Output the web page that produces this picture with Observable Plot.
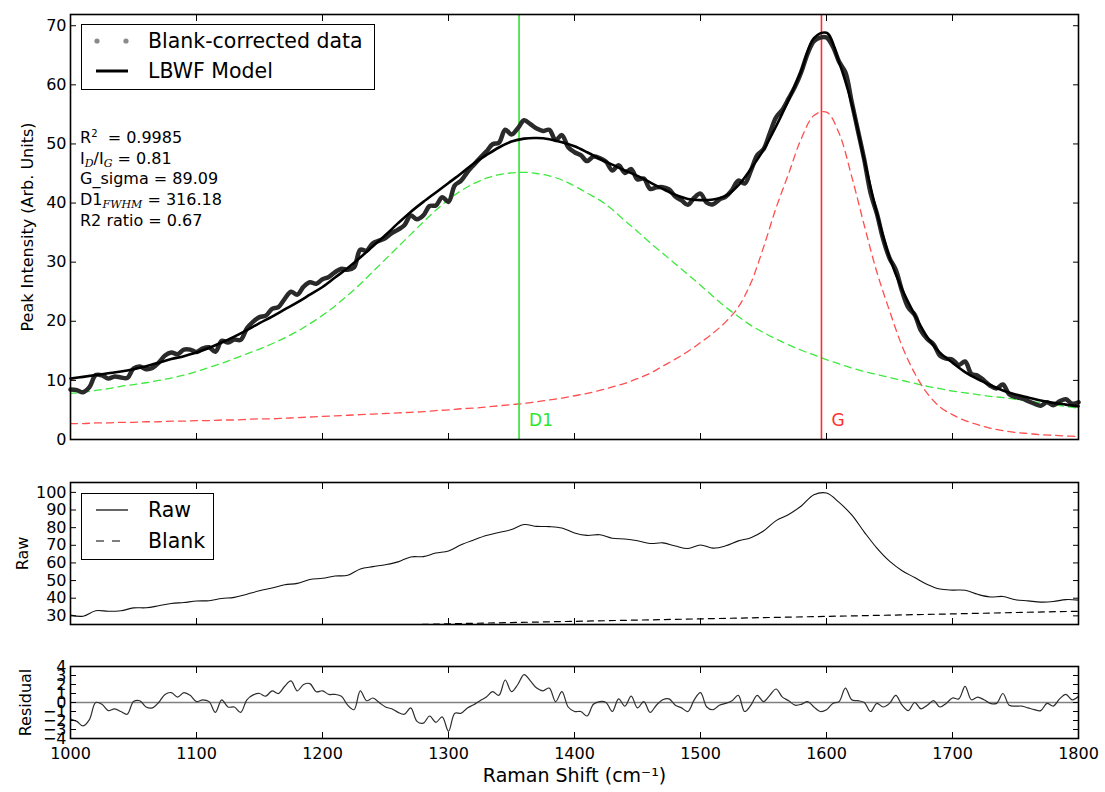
<!DOCTYPE html>
<html>
<head>
<meta charset="utf-8">
<script src="https://cdn.jsdelivr.net/npm/d3@7"></script>
<script src="https://cdn.jsdelivr.net/npm/@observablehq/plot@0.6"></script>
<style>
  body { margin: 0; background: #fff; }
  #wrap { position: relative; width: 1105px; height: 792px; font-family: "DejaVu Sans", sans-serif; color: #000; overflow: hidden; }
  .panel { position: absolute; left: 0; }
  .legend { position: absolute; border: 1.5px solid #000; box-sizing: border-box; background: #fff; font-size: 20.5px; }
  .legend svg { position: absolute; left: 0; top: 0; }
  .legend .lt { position: absolute; white-space: nowrap; transform: translateY(-50%); line-height: 1; }
  #stats { position: absolute; left: 80px; top: 128px; font-size: 16px; }
  #stats div { height: 20.7px; line-height: 20.7px; white-space: nowrap; }
  #stats sub { font-family: "DejaVu Serif", serif; font-style: italic; font-size: 11px; vertical-align: -3px; line-height: 0; }
  #stats sup { font-size: 10px; vertical-align: 6px; line-height: 0; }
</style>
</head>
<body>
<div id="wrap"></div>
<script>
// ---------- data ----------
// sample positions (Raman shift, cm^-1)
const shift5 = d3.range(1000, 1801, 5);
const shift10 = d3.range(1000, 1801, 10);
const shift50 = d3.range(1000, 1801, 50);

// blank-corrected spectrum (main panel), every 5 cm^-1
const blankCorrected = [
  8.45, 8.35, 8.0, 8.85, 10.9, 10.85, 10.3, 10.65, 10.5, 10.4,
  12.0, 12.35, 11.9, 12.1, 13.0, 14.2, 14.7, 14.45, 15.2, 15.2,
  14.8, 15.4, 15.6, 14.85, 16.7, 16.4, 16.9, 16.85, 18.8, 19.95,
  20.7, 20.95, 22.1, 22.4, 23.8, 25.0, 24.5, 25.85, 26.6, 26.35,
  27.1, 27.5, 28.3, 28.9, 28.7, 29.1, 32.1, 31.95, 33.2, 33.65,
  34.1, 34.9, 35.5, 36.25, 37.9, 37.25, 37.9, 39.5, 39.6, 41.0,
  40.2, 43.0, 43.8, 45.25, 46.45, 47.6, 48.7, 49.95, 50.2, 52.4,
  51.6, 52.65, 54.0, 53.35, 52.6, 52.2, 52.4, 50.65, 51.5, 49.45,
  48.6, 48.1, 47.1, 47.85, 47.6, 47.0, 45.5, 46.4, 45.1, 45.75,
  44.0, 44.15, 42.4, 42.65, 42.7, 42.3, 41.1, 40.45, 39.7, 40.9,
  41.6, 40.05, 39.8, 40.6, 41.1, 42.2, 43.8, 43.3, 45.5, 48.1,
  49.1, 51.8, 54.5, 55.8, 57.7, 59.7, 62.2, 65.3, 67.4, 68.0,
  68.0, 66.5, 63.9, 62.1, 57.1, 52.2, 47.3, 41.7, 38.2, 33.9,
  30.7, 28.7, 25.1, 22.3, 21.1, 18.4, 17.0, 16.1, 14.2, 13.7,
  13.5, 12.6, 13.2, 11.1, 10.8, 10.0, 9.1, 8.65, 9.3, 7.65,
  7.2, 6.95, 6.5, 6.05, 5.7, 6.3, 5.8, 6.45, 6.8, 6.05,
  6.3
];

// residual (bottom panel), every 5 cm^-1
const residual = [
  -1.85, -2.1, -2.6, -1.9, 0.0, -0.2, -0.9, -0.7, -1.0, -1.3,
  0.1, 0.2, -0.5, -0.6, 0.0, 0.9, 1.1, 0.6, 1.1, 0.8,
  0.1, 0.3, 0.1, -1.1, 0.3, -0.5, -0.5, -1.1, 0.3, 0.85,
  1.0, 0.7, 1.3, 1.0, 1.8, 2.4, 1.3, 2.0, 2.1, 1.2,
  1.3, 0.9, 0.9, 0.7, -0.3, -0.8, 1.3, 0.2, 0.5, 0.0,
  -0.5, -0.7, -1.1, -1.3, -0.6, -2.1, -2.3, -1.5, -2.2, -1.6,
  -3.2, -1.2, -1.2, -0.6, -0.26, 0.2, 0.6, 1.2, 0.8, 2.5,
  1.2, 2.0, 3.1, 2.4, 1.6, 1.3, 1.6, 0.1, 1.2, -0.5,
  -1.0, -1.0, -1.5, -0.2, 0.1, 0.0, -1.0, 0.4, -0.4, 0.7,
  -0.6, 0.1, -1.1, -0.3, 0.3, 0.4, -0.3, -0.6, -1.0, 0.3,
  1.1, -0.5, -0.8, -0.3, -0.1, 0.2, 0.8, -1.0, -0.3, 0.8,
  0.1, 0.8, 1.5, 0.6, 0.2, -0.3, -0.2, 0.1, -0.5, -1.0,
  -0.8, -0.1, 0.1, 1.6, 0.3, 0.2, 0.0, -1.0, -0.1, -0.5,
  -0.1, 0.8, -0.3, -0.9, 0.0, -0.7, -0.3, 0.2, -0.5, -0.1,
  0.5, 0.4, 1.8, 0.3, 0.6, 0.3, -0.1, -0.1, 1.0, -0.3,
  -0.4, -0.4, -0.6, -0.8, -0.9, -0.1, -0.4, 0.4, 0.9, 0.3,
  0.7
];

// LBWF model fit, every 10 cm^-1
const lbwfModel = [
  10.3, 10.6, 10.9, 11.2, 11.5, 11.9, 12.4, 13.0, 13.6, 14.1,
  14.7, 15.5, 16.4, 17.4, 18.5, 19.7, 20.8, 22.0, 23.2, 24.5,
  25.8, 27.4, 29.0, 30.8, 32.7, 34.6, 36.6, 38.5, 40.2, 41.8,
  43.4, 45.0, 46.7, 48.1, 49.4, 50.4, 50.9, 51.0, 50.8, 50.3,
  49.6, 48.6, 47.5, 46.5, 45.5, 44.6, 43.5, 42.4, 41.4, 40.7,
  40.5, 40.6, 41.2, 43.0, 45.8, 49.0, 53.0, 57.5, 62.4, 67.9,
  68.8, 63.8, 56.8, 47.3, 38.3, 30.8, 25.4, 21.1, 17.3, 14.7,
  13.0, 11.4, 10.2, 9.2, 8.3, 7.6, 7.1, 6.6, 6.2, 5.9,
  5.6
];

// D1 component (green dashed), every 10 cm^-1
const d1Component = [
  7.8, 8.0, 8.3, 8.6, 9.0, 9.3, 9.6, 10.0, 10.4, 10.9,
  11.5, 12.2, 12.9, 13.7, 14.5, 15.3, 16.2, 17.2, 18.3, 19.6,
  21.0, 22.6, 24.4, 26.3, 28.4, 30.5, 32.6, 34.7, 36.8, 38.8,
  40.6, 42.1, 43.3, 44.2, 44.8, 45.1, 45.2, 45.0, 44.6, 43.9,
  42.9, 41.7, 40.5, 38.9, 37.0, 35.2, 33.3, 31.5, 29.7, 27.9,
  26.1, 24.2, 22.4, 20.8, 19.3, 18.1, 17.0, 16.0, 15.1, 14.3,
  13.5, 12.8, 12.1, 11.5, 11.0, 10.5, 10.0, 9.5, 9.0, 8.6,
  8.2, 7.9, 7.6, 7.3, 7.1, 6.8, 6.5, 6.2, 5.9, 5.6,
  5.3
];

// G component (red dashed), every 10 cm^-1
const gComponent = [
  2.7, 2.7, 2.8, 2.8, 2.9, 2.9, 3.0, 3.0, 3.1, 3.1,
  3.2, 3.2, 3.3, 3.3, 3.4, 3.5, 3.5, 3.6, 3.7, 3.8,
  3.9, 4.0, 4.1, 4.2, 4.3, 4.4, 4.5, 4.6, 4.7, 4.9,
  5.0, 5.2, 5.3, 5.5, 5.7, 5.9, 6.1, 6.4, 6.7, 7.0,
  7.4, 7.8, 8.3, 8.9, 9.5, 10.3, 11.2, 12.4, 13.6, 14.9,
  16.4, 18.0, 19.9, 22.4, 26.5, 32.5, 39.2, 45.0, 50.9, 54.8,
  55.4, 51.8, 44.5, 36.2, 28.3, 21.8, 15.8, 11.2, 7.8, 5.5,
  4.2, 3.2, 2.5, 1.9, 1.5, 1.2, 1.0, 0.8, 0.7, 0.6,
  0.5
];

// raw spectrum (middle panel), every 10 cm^-1
const rawSignal = [
  30.4, 29.8, 32.9, 32.6, 32.9, 34.5, 34.6, 35.7, 37.0, 37.6,
  38.4, 38.6, 39.8, 40.5, 42.3, 44.2, 45.8, 47.6, 48.4, 50.6,
  51.3, 52.6, 53.0, 56.6, 57.9, 59.0, 60.6, 63.4, 63.6, 65.6,
  66.8, 70.3, 73.0, 75.5, 77.3, 78.9, 81.8, 80.7, 80.6, 79.8,
  77.0, 75.6, 76.0, 74.0, 73.6, 72.6, 71.0, 71.4, 69.6, 68.2,
  70.2, 68.4, 69.7, 72.5, 74.3, 78.1, 84.0, 87.5, 92.3, 98.6,
  99.6, 94.3, 87.2, 77.5, 68.4, 61.0, 55.6, 51.7, 47.8, 45.2,
  44.6, 44.5, 42.2, 40.7, 41.0, 39.1, 38.5, 37.8, 38.1, 39.2,
  38.9
];

// blank spectrum (middle panel, dashed), every 50 cm^-1
const blankSignal = [21.2, 21.9, 22.6, 23.3, 24.0, 24.7, 25.5, 26.2, 26.9, 27.6, 28.3, 29.0, 29.7, 30.4, 31.1, 31.9, 32.6];

// fitted peak centres
const peakNames = ["D1", "G"];
const peakCenters = [1356, 1596];
const peakColors = ["#2ee52e", "#ff2e2e"];

// tick values and labels
const xTicks = [1000, 1100, 1200, 1300, 1400, 1500, 1600, 1700, 1800];
const mainYTicks = [0, 10, 20, 30, 40, 50, 60, 70];
const rawYTicks = [30, 40, 50, 60, 70, 80, 90, 100];
const residYTicks = [-4, -3, -2, -1, 0, 1, 2, 3, 4];

// texts
const mainYLabel = "Peak Intensity (Arb. Units)";
const rawYLabel = "Raw";
const residYLabel = "Residual";
const xLabel = "Raman Shift (cm\u207B\u00B9)";
const mainLegend = ["Blank-corrected data", "LBWF Model"];
const rawLegend = ["Raw", "Blank"];
const statLabels = ["R<sup>2</sup>&nbsp;", "I<sub>D</sub>/I<sub>G</sub>", "G_sigma", "D1<sub>FWHM</sub>", "R2 ratio"];
const statValues = ["0.9985", "0.81", "89.09", "316.18", "0.67"];

// ---------- tables ----------
const spec = shift5.map((x, i) => ({x, data: blankCorrected[i], resid: residual[i]}));
const fit = shift10.map((x, i) => ({x, model: lbwfModel[i], d1: d1Component[i], g: gComponent[i], raw: rawSignal[i]}));
const blank = shift50.map((x, i) => ({x, blank: blankSignal[i]}));
const peaks = peakNames.map((name, i) => ({name, center: peakCenters[i], color: peakColors[i]}));

const W = 1105, ML = 70, MR = 27;
const xDomain = [1000, 1800];
const font = {fontFamily: "DejaVu Sans, sans-serif", fontSize: "16px", color: "black", background: "white", overflow: "visible"};
const blankFmt = () => "";

function frameAxes(yTicks, opts = {}) {
  return [
    Plot.axisX({anchor: "bottom", ticks: xTicks, tickSize: -6, tickFormat: opts.xLabels ? (d => String(d)) : blankFmt, tickPadding: 15, label: null, fontSize: 16}),
    Plot.axisX({anchor: "top", ticks: xTicks, tickSize: -6, tickFormat: blankFmt, label: null}),
    Plot.axisY({anchor: "left", ticks: yTicks, tickSize: -6, tickPadding: 10, label: null, fontSize: 16,
      tickFormat: d => d < 0 ? "\u2212" + Math.abs(d) : String(d)}),
    Plot.axisY({anchor: "right", ticks: yTicks, tickSize: -6, tickFormat: blankFmt, label: null}),
    Plot.frame({stroke: "black", strokeWidth: 1.6})
  ];
}

function yTitle(text, dx) {
  return Plot.text([text], {frameAnchor: "left", rotate: -90, dx, fontSize: 16, textAnchor: "middle", lineAnchor: "middle"});
}

const wrap = document.getElementById("wrap");

// ---------- main panel ----------
const main = Plot.plot({
  width: W, height: 445, marginLeft: ML, marginRight: MR, marginTop: 14, marginBottom: 6,
  style: font,
  x: {domain: xDomain},
  y: {domain: [0, 71.9]},
  marks: [
    Plot.line(fit, {x: "x", y: "d1", stroke: "#3fe83f", strokeWidth: 1.3, strokeDasharray: "7,5", curve: "catmull-rom"}),
    Plot.line(fit, {x: "x", y: "g", stroke: "#ff4f4f", strokeWidth: 1.3, strokeDasharray: "7,5", curve: "catmull-rom"}),
    Plot.ruleX(peaks, {x: "center", stroke: "color", strokeWidth: 1.6}),
    Plot.line(spec, {x: "x", y: "data", stroke: "#2a2a2a", strokeWidth: 4.5, strokeLinejoin: "round", curve: "catmull-rom"}),
    Plot.line(fit, {x: "x", y: "model", stroke: "#000", strokeWidth: 2.6, curve: "catmull-rom"}),
    Plot.text(peaks, {x: "center", text: "name", fill: "color", frameAnchor: "bottom", lineAnchor: "middle", dy: -19, dx: 10, textAnchor: "start", fontSize: 17}),
    yTitle(mainYLabel, -43),
    ...frameAxes(mainYTicks)
  ]
});
main.classList.add("panel");
main.style.top = "0px";
wrap.appendChild(main);

// ---------- raw panel ----------
const rawPlot = Plot.plot({
  width: W, height: 154, marginLeft: ML, marginRight: MR, marginTop: 6, marginBottom: 6,
  style: font,
  x: {domain: xDomain},
  y: {domain: [25.1, 105.6]},
  marks: [
    Plot.line(blank, {x: "x", y: "blank", stroke: "#000", strokeWidth: 1.2, strokeDasharray: "6,5", clip: true}),
    Plot.line(fit, {x: "x", y: "raw", stroke: "#111", strokeWidth: 1.1, curve: "catmull-rom"}),
    yTitle(rawYLabel, -48),
    ...frameAxes(rawYTicks)
  ]
});
rawPlot.classList.add("panel");
rawPlot.style.top = "476px";
wrap.appendChild(rawPlot);

// ---------- residual panel ----------
const resPlot = Plot.plot({
  width: W, height: 132, marginLeft: ML, marginRight: MR, marginTop: 6, marginBottom: 54,
  style: font,
  x: {domain: xDomain},
  y: {domain: [-4, 4]},
  marks: [
    Plot.ruleY([0], {stroke: "#808080", strokeWidth: 1.6}),
    Plot.line(spec, {x: "x", y: "resid", stroke: "#2e2e2e", strokeWidth: 1.2, curve: "catmull-rom"}),
    yTitle(residYLabel, -45),
    Plot.text([xLabel], {frameAnchor: "bottom", lineAnchor: "middle", dy: 37, fontSize: 19}),
    ...frameAxes(residYTicks, {xLabels: true})
  ]
});
resPlot.classList.add("panel");
resPlot.style.top = "660px";
wrap.appendChild(resPlot);

// ---------- legends ----------
function legend(left, top, width, height, rows, swatches) {
  const box = document.createElement("div");
  box.className = "legend";
  Object.assign(box.style, {left: left + "px", top: top + "px", width: width + "px", height: height + "px"});
  const svg = d3.create("svg").attr("width", width).attr("height", height);
  rows.forEach((r, i) => {
    swatches[i](svg, r.y);
    const t = document.createElement("div");
    t.className = "lt";
    t.style.left = "66px";
    t.style.top = r.y + "px";
    t.textContent = r.text;
    box.appendChild(t);
  });
  box.insertBefore(svg.node(), box.firstChild);
  wrap.appendChild(box);
}
legend(81, 24, 294, 66,
  mainLegend.map((text, i) => ({text, y: [16, 46][i]})),
  [
    (svg, y) => { svg.append("circle").attr("cx", 15).attr("cy", y).attr("r", 2.6).attr("fill", "#8a8a8a");
                  svg.append("circle").attr("cx", 44).attr("cy", y).attr("r", 2.6).attr("fill", "#8a8a8a"); },
    (svg, y) => { svg.append("line").attr("x1", 14).attr("x2", 46).attr("y1", y).attr("y2", y).attr("stroke", "#000").attr("stroke-width", 3); }
  ]);
legend(81, 493, 133, 67,
  rawLegend.map((text, i) => ({text, y: [16, 47][i]})),
  [
    (svg, y) => { svg.append("line").attr("x1", 14).attr("x2", 46).attr("y1", y).attr("y2", y).attr("stroke", "#000").attr("stroke-width", 1.2); },
    (svg, y) => { svg.append("line").attr("x1", 14).attr("x2", 46).attr("y1", y).attr("y2", y).attr("stroke", "#000").attr("stroke-width", 1.2).attr("stroke-dasharray", "8,8"); }
  ]);

// ---------- fit statistics ----------
const stats = document.createElement("div");
stats.id = "stats";
stats.innerHTML = statLabels.map((l, i) => `<div>${l} = ${statValues[i]}</div>`).join("");
wrap.appendChild(stats);
</script>
</body>
</html>
